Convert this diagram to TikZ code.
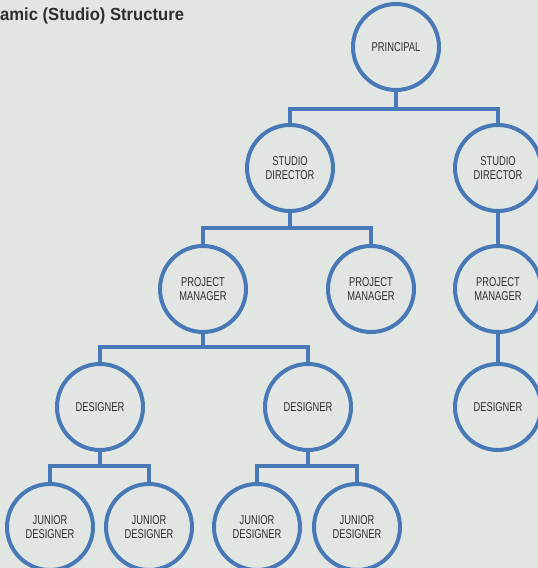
\documentclass[tikz,border=0pt]{standalone}
\usepackage{fontspec}
\setmainfont{Liberation Sans}
\newfontfamily\narrowfont[FakeStretch=0.73]{Liberation Sans}
\newfontfamily\titlefont[FakeStretch=0.95]{Liberation Sans}
\definecolor{orgblue}{HTML}{4878B6}
\definecolor{paper}{HTML}{E2E6E3}
\definecolor{ink}{HTML}{2E2E2E}
\tikzset{
  role/.style={circle, draw=orgblue, line width=4pt, minimum size=86pt, inner sep=0pt,
    align=center, text=ink, font=\narrowfont\fontsize{12.8}{14}\selectfont},
  link/.style={draw=orgblue, line width=4pt}
}
\begin{document}
\begin{tikzpicture}[x=1pt,y=-1pt]
\fill[paper] (0,0) rectangle (538,568);
\useasboundingbox (0,0) rectangle (538,568);
\node[anchor=base west, inner sep=0pt, text=ink, font=\titlefont\bfseries\fontsize{17.5}{20}\selectfont] (title) at (0,20) {amic (Studio) Structure};
% top
\node[role] (pr) at (396,47) {PRINCIPAL};
\node[role] (sdA) at (290,168) {STUDIO\\DIRECTOR};
\node[role] (sdB) at (498,168) {STUDIO\\DIRECTOR};
% project managers
\node[role] (pmA) at (203,289) {PROJECT\\MANAGER};
\node[role] (pmB) at (371,289) {PROJECT\\MANAGER};
\node[role] (pmC) at (498,289) {PROJECT\\MANAGER};
% designers
\node[role] (dsA) at (100,407) {DESIGNER};
\node[role] (dsB) at (308,407) {DESIGNER};
\node[role] (dsC) at (498,407) {DESIGNER};
% juniors
\node[role] (jdA) at (50,527) {JUNIOR\\DESIGNER};
\node[role] (jdB) at (149,527) {JUNIOR\\DESIGNER};
\node[role] (jdC) at (257,527) {JUNIOR\\DESIGNER};
\node[role] (jdD) at (357,527) {JUNIOR\\DESIGNER};
% connectors
\draw[link] (pr.south) -- ++(0,17) -| (sdA.north);
\draw[link] (pr.south) -- ++(0,17) -| (sdB.north);
\draw[link] (sdA.south) -- ++(0,15) -| (pmA.north);
\draw[link] (sdA.south) -- ++(0,15) -| (pmB.north);
\draw[link] (sdB) -- (pmC);
\draw[link] (pmA.south) -- ++(0,13) -| (dsA.north);
\draw[link] (pmA.south) -- ++(0,13) -| (dsB.north);
\draw[link] (pmC) -- (dsC);
\draw[link] (dsA.south) -- ++(0,14) -| (jdA.north);
\draw[link] (dsA.south) -- ++(0,14) -| (jdB.north);
\draw[link] (dsB.south) -- ++(0,14) -| (jdC.north);
\draw[link] (dsB.south) -- ++(0,14) -| (jdD.north);
\end{tikzpicture}
\end{document}
